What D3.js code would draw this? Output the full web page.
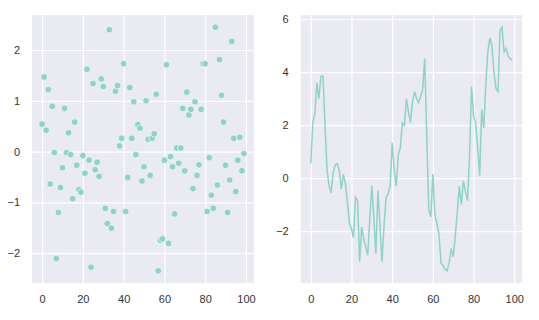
<!DOCTYPE html>
<html>
<head>
<meta charset="utf-8">
<script src="https://cdn.jsdelivr.net/npm/d3@7"></script>
<style>
  body { margin: 0; background: #fff; }
  text { font-family: Arial, "Liberation Sans", sans-serif; }
</style>
</head>
<body>
<div id="chart"></div>
<script>
// scatter values, index 0..99
const scatterY = [0.54, 1.47, 0.42, 1.22, -0.64, 0.89, -0.02, -2.11, -1.2, -0.71,
  -0.32, 0.85, -0.02, 0.37, -0.06, -0.93, 0.58, -0.27, -0.75, -0.8,
  -0.08, -0.43, 1.62, -0.17, -2.28, 1.34, -0.36, -0.21, -0.49, 1.43,
  1.28, -1.12, -1.42, 2.4, -1.51, -1.18, 1.19, 1.3, 0.11, 0.26,
  1.73, -1.18, -0.51, 1.26, 0.26, 0.98, -0.06, 0.53, 0.46, -0.58,
  -0.3, 1.0, 0.24, -0.47, 0.26, 0.35, 1.13, -2.35, -1.75, -1.72,
  -0.17, 1.71, -1.81, -0.1, -0.3, -1.23, 0.07, -0.23, 0.07, 0.85,
  -0.38, 1.17, 0.72, 0.83, -0.73, 0.98, -0.47, -0.26, 0.83, 1.73,
  1.73, -1.18, -0.12, -0.86, -1.12, 2.45, -0.66, 1.81, 1.11, 0.58,
  -0.27, -1.2, -0.56, 2.17, 0.26, -0.79, -0.17, 0.28, -0.38, -0.04];

// line values, index 0..99
const lineY = [0.55, 2.1, 2.45, 3.6, 3.0, 3.85, 3.85, 2.0, 0.3, -0.3,
  -0.55, 0.2, 0.5, 0.55, 0.3, -0.41, 0.15, -0.22, -0.9, -1.7,
  -1.9, -2.25, -0.73, -0.85, -3.16, -1.85, -2.3, -2.6, -2.91, -1.5,
  -0.29, -1.5, -2.85, -0.48, -1.8, -3.16, -1.8, -0.73, -0.6, -0.29,
  1.33, 0.3, -0.3, 0.9, 1.15, 2.08, 2.0, 3.0, 2.5, 2.1,
  2.9, 3.27, 3.0, 2.85, 3.1, 3.35, 4.52, 1.6, -1.2, -1.47,
  0.15, -1.4, -1.7, -2.1, -3.2, -3.3, -3.45, -3.5, -3.2, -2.66,
  -2.97, -2.2, -1.3, -0.3, -1.0, -0.1, -0.5, -0.85, 0.77, 3.46,
  2.33, 2.1, 1.2, 0.09, 2.58, 1.9, 3.5, 4.77, 5.3, 5.02,
  4.0, 3.39, 3.27, 5.58, 5.7, 4.77, 4.9, 4.6, 4.5, 4.46];

const xTicks = [0, 20, 40, 60, 80, 100];
const scatterYTicks = [-2, -1, 0, 1, 2];
const lineYTicks = [-2, 0, 2, 4, 6];

const color = "#8dd3c7";
const width = 539, height = 320;

const svg = d3.select("#chart").append("svg")
  .attr("width", width)
  .attr("height", height);

// matplotlib-style 5% padding on data extent
function padded(ext) {
  const m = (ext[1] - ext[0]) * 0.05;
  return [ext[0] - m, ext[1] + m];
}

function panel(left, right, yValues, yTicks) {
  const top = 15, bottom = 283;
  const idx = yValues.map((d, i) => i);
  const x = d3.scaleLinear().domain(padded(d3.extent(idx))).range([left, right]);
  const y = d3.scaleLinear().domain(padded(d3.extent(yValues))).range([bottom, top]);
  const fmt = d3.format("d");

  const g = svg.append("g");
  g.append("rect")
    .attr("x", left).attr("y", top)
    .attr("width", right - left).attr("height", bottom - top)
    .attr("fill", "#eaeaf2");

  // grid via axes with full-length ticks
  const gx = g.append("g")
    .attr("transform", "translate(0," + bottom + ")")
    .call(d3.axisBottom(x).tickValues(xTicks).tickFormat(fmt)
      .tickSize(-(bottom - top)).tickPadding(12));
  const gy = g.append("g")
    .attr("transform", "translate(" + left + ",0)")
    .call(d3.axisLeft(y).tickValues(yTicks).tickFormat(fmt)
      .tickSize(-(right - left)).tickPadding(12));

  [gx, gy].forEach(a => {
    a.select(".domain").remove();
    a.selectAll("line").attr("stroke", "#fff").attr("stroke-width", 1.2);
    a.selectAll("text").attr("fill", "#333").style("font-size", "11px");
  });
  return {g, x, y};
}

// left: scatter
const p1 = panel(32, 254, scatterY, scatterYTicks);
p1.g.selectAll("circle")
  .data(scatterY)
  .enter()
  .append("circle")
  .attr("cx", (d, i) => p1.x(i))
  .attr("cy", d => p1.y(d))
  .attr("r", 3.3)
  .attr("fill", color)
  .attr("stroke", "#fff")
  .attr("stroke-width", 0.6);

// right: line
const p2 = panel(300.7, 522.3, lineY, lineYTicks);
p2.g.append("path")
  .datum(lineY)
  .attr("fill", "none")
  .attr("stroke", color)
  .attr("stroke-width", 1.5)
  .attr("d", d3.line().x((d, i) => p2.x(i)).y(d => p2.y(d)));
</script>
</body>
</html>
